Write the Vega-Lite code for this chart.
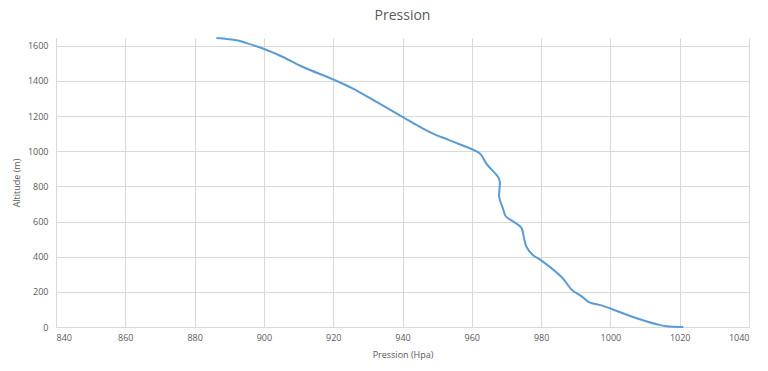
{
  "$schema": "https://vega.github.io/schema/vega-lite/v6.json",
  "autosize": "none",
  "width": 693,
  "height": 289,
  "padding": {"left": 56, "top": 38, "right": 19, "bottom": 44},
  "background": "white",
  "title": {"text": "Pression", "fontSize": 14, "font": "Open Sans", "fontWeight": "normal", "color": "#595959", "offset": 11},
  "data": {"values": [
    {"p": 1021.0, "alt": 0},
    {"p": 1016.2, "alt": 4},
    {"p": 1013.7, "alt": 14},
    {"p": 1006.5, "alt": 57},
    {"p": 1000.0, "alt": 105},
    {"p": 997.4, "alt": 123},
    {"p": 993.8, "alt": 142},
    {"p": 991.6, "alt": 176},
    {"p": 989.0, "alt": 209},
    {"p": 985.9, "alt": 284},
    {"p": 980.0, "alt": 379},
    {"p": 977.7, "alt": 408},
    {"p": 975.8, "alt": 455},
    {"p": 975.0, "alt": 512},
    {"p": 974.3, "alt": 565},
    {"p": 971.9, "alt": 601},
    {"p": 969.8, "alt": 630},
    {"p": 969.0, "alt": 673},
    {"p": 967.9, "alt": 740},
    {"p": 968.1, "alt": 825},
    {"p": 967.6, "alt": 853},
    {"p": 964.2, "alt": 929},
    {"p": 962.8, "alt": 977},
    {"p": 961.8, "alt": 995},
    {"p": 953.6, "alt": 1062},
    {"p": 948.8, "alt": 1100},
    {"p": 945.9, "alt": 1129},
    {"p": 940.0, "alt": 1195},
    {"p": 932.5, "alt": 1280},
    {"p": 925.7, "alt": 1356},
    {"p": 919.9, "alt": 1409},
    {"p": 911.3, "alt": 1479},
    {"p": 905.5, "alt": 1536},
    {"p": 899.9, "alt": 1583},
    {"p": 895.0, "alt": 1615},
    {"p": 892.1, "alt": 1631},
    {"p": 886.3, "alt": 1644}
  ]},
  "mark": {"type": "line", "color": "#5B9BD5", "strokeWidth": 2, "interpolate": "catmull-rom"},
  "encoding": {
    "x": {"field": "p", "type": "quantitative", "scale": {"domain": [840, 1040], "nice": false, "zero": false},
      "axis": {"title": "Pression (Hpa)", "format": "d", "values": [840, 860, 880, 900, 920, 940, 960, 980, 1000, 1020, 1040]}},
    "y": {"field": "alt", "type": "quantitative", "scale": {"domain": [0, 1644], "nice": false},
      "axis": {"title": "Altitude (m)", "format": "d", "values": [0, 200, 400, 600, 800, 1000, 1200, 1400, 1600]}},
    "order": {"field": "alt", "type": "quantitative"}
  },
  "config": {
    "view": {"stroke": null},
    "axis": {
      "labelFont": "Open Sans", "labelFontSize": 9, "labelColor": "#595959",
      "titleFont": "Open Sans", "titleFontSize": 9, "titleFontWeight": "normal", "titleColor": "#595959",
      "gridColor": "#D9D9D9", "gridWidth": 1, "ticks": false, "domain": true, "domainColor": "#D9D9D9", "labelPadding": 6
    },
    "axisX": {"titlePadding": 8},
    "axisY": {"titlePadding": 6, "labelPadding": 8}
  }
}
